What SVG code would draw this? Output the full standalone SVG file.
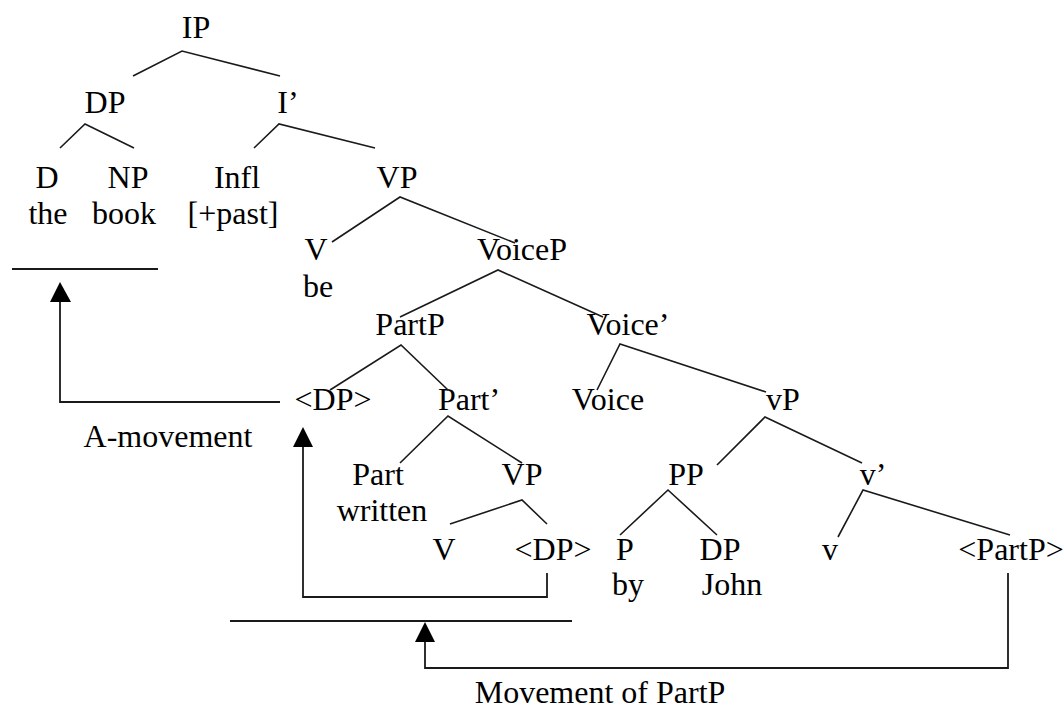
<svg xmlns="http://www.w3.org/2000/svg" width="1064" height="711" viewBox="0 0 1064 711">
<style>
text{font-family:"Liberation Serif","Times New Roman",serif;font-size:32px;fill:#000;text-anchor:middle}
.e{stroke:#1a1a1a;stroke-width:1.6;fill:none}
.m{stroke:#1a1a1a;stroke-width:1.8;fill:none}
.h{fill:#000}
</style>
<rect width="1064" height="711" fill="#fff"/>
<g id="nodes">
<g id="n-IP"><text x="196" y="38">IP</text></g>
<g id="n-DP"><text x="105" y="113">DP</text></g>
<g id="n-Ibar"><text x="288" y="113">I’</text></g>
<g id="n-D"><text x="47" y="188">D</text><text x="48" y="224">the</text></g>
<g id="n-NP"><text x="128" y="188">NP</text><text x="124" y="224">book</text></g>
<g id="n-Infl"><text x="237" y="188">Infl</text><text x="233" y="224">[+past]</text></g>
<g id="n-VP"><text x="397" y="188">VP</text></g>
<g id="n-V"><text x="316" y="260">V</text><text x="318" y="297">be</text></g>
<g id="n-VoiceP"><text x="522" y="260">VoiceP</text></g>
<g id="n-PartP"><text x="410" y="335">PartP</text></g>
<g id="n-Voicebar"><text x="628" y="335">Voice’</text></g>
<g id="n-DPtrace1"><text x="333" y="410">&lt;DP&gt;</text></g>
<g id="n-Partbar"><text x="469" y="410">Part’</text></g>
<g id="n-Voice"><text x="608" y="410">Voice</text></g>
<g id="n-vP"><text x="783" y="410">vP</text></g>
<g id="n-Part"><text x="378" y="485">Part</text><text x="382" y="521">written</text></g>
<g id="n-VP2"><text x="522" y="485">VP</text></g>
<g id="n-PP"><text x="686" y="485">PP</text></g>
<g id="n-vbar"><text x="873" y="485">v’</text></g>
<g id="n-V2"><text x="444" y="560">V</text></g>
<g id="n-DPtrace2"><text x="553" y="560">&lt;DP&gt;</text></g>
<g id="n-P"><text x="625" y="560">P</text><text x="628" y="595">by</text></g>
<g id="n-DP2"><text x="720" y="560">DP</text><text x="732" y="595">John</text></g>
<g id="n-v"><text x="830" y="560">v</text></g>
<g id="n-PartPtrace"><text x="1011" y="560">&lt;PartP&gt;</text></g>
<g id="labels"><text x="168" y="447">A-movement</text><text x="600" y="703">Movement of PartP</text></g>
</g>
<g id="connectors">
<polyline class="e" points="133,76 182,51 280,76"/>
<polyline class="e" points="60,148 85,124 134,148"/>
<polyline class="e" points="254,148 279,124 375,148"/>
<polyline class="e" points="332,242 400,197 515,243"/>
<polyline class="e" points="400,317 498,270 603,317"/>
<polyline class="e" points="330,390 401,345 448,390"/>
<polyline class="e" points="597,390 620,344 766,392"/>
<polyline class="e" points="400,463 448,416 522,463"/>
<polyline class="e" points="450,524 522,500 547,524"/>
<polyline class="e" points="717,465 765,417 862,463"/>
<polyline class="e" points="620,535 668,490 717,535"/>
<polyline class="e" points="838,537 863,490 1010,535"/>
<line class="m" x1="12" y1="269" x2="158" y2="269"/>
<line class="m" x1="230" y1="621" x2="572" y2="621"/>
<polyline class="m" points="280,402 60,402 60,300"/>
<polygon class="h" points="60,282 50,302 71,302"/>
<polyline class="m" points="547,573 547,597 303,597 303,445"/>
<polygon class="h" points="303,427 293,447 313,447"/>
<polyline class="m" points="1008,573 1008,668 425,668 425,640"/>
<polygon class="h" points="425,622 415,642 435,642"/>
</g>
</svg>
